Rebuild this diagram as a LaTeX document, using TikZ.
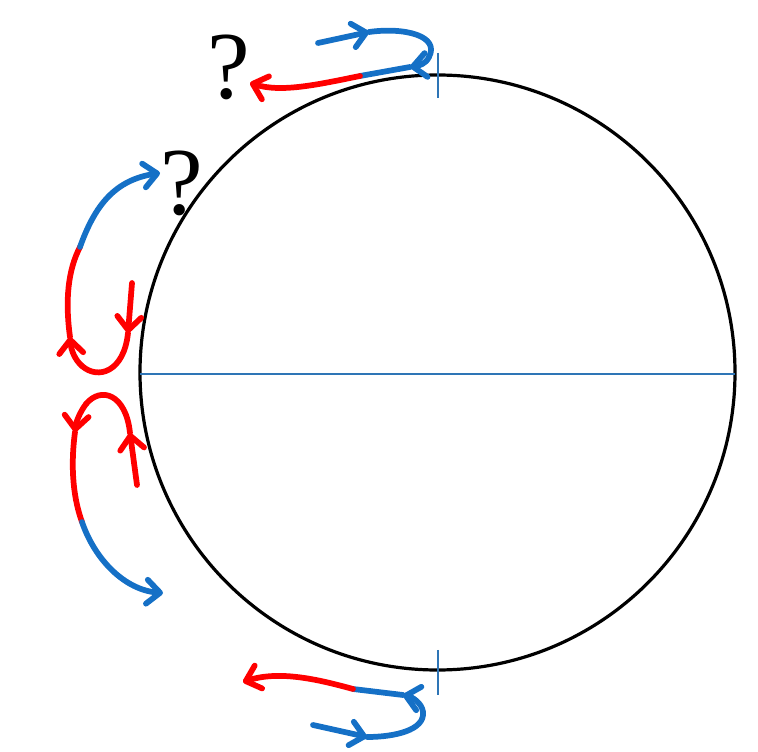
\documentclass[tikz,border=0pt]{standalone}
\usepackage{fontspec}
\setmainfont{Liberation Serif}
\usepackage{tikz}
\usetikzlibrary{arrows.meta}
\definecolor{spinblue}{RGB}{21,112,198}
\definecolor{spinred}{RGB}{255,0,0}
\definecolor{axisblue}{RGB}{46,117,182}
\begin{document}
\begin{tikzpicture}[x=0.75pt,y=-0.75pt,
        bl/.style={draw=spinblue,line width=4.3pt,line cap=round,line join=round},
        rd/.style={draw=spinred,line width=4.3pt,line cap=round,line join=round},
        hd/.style={-{Straight Barb[length=10pt,width=18pt,round]}},
        thin/.style={draw=axisblue,line width=1.5pt},
        qmark/.style={inner sep=0pt,font=\fontsize{72}{72}\selectfont}]
  \useasboundingbox (0,0) rectangle (758,752);
  % sphere and equator
  \coordinate (o) at (437.5,372.5);
  \coordinate (w) at (140,374);
  \coordinate (e) at (735,374);
  \draw[line width=2.4pt] (o) circle[radius=297.5];
  \draw[thin] (w) -- (e);
  % poles
  \coordinate (nt) at (438,53); \coordinate (nb) at (438,98);
  \coordinate (st) at (438,650); \coordinate (sb) at (438,695);
  \draw[thin] (nt) -- (nb);
  \draw[thin] (st) -- (sb);
  % question marks
  \node[qmark] (qtop) at (229,67) {?};
  \node[qmark] (qleft) at (182,183) {?};
  % top loop
  \coordinate (t1) at (318,43); \coordinate (t2) at (369,32);
  \coordinate (t3) at (429,57); \coordinate (t4) at (410,67);
  \coordinate (t5) at (360,76); \coordinate (t6) at (250,83);
  \draw[bl,hd] (t1) -- (t2);
  \draw[bl] (t2) .. controls (405,27) and (440,36) .. (t3);
  \draw[bl,hd] (t3) .. controls (426,64) and (418,66) .. (t4);
  \draw[bl] (t4) -- (t5);
  \draw[rd,hd] (t5) .. controls (320,84) and (282,93) .. (t6);
  % upper left loop
  \coordinate (a1) at (132,283); \coordinate (a2) at (128,333);
  \coordinate (a3) at (82,366); \coordinate (a4) at (70,337);
  \coordinate (a5) at (80,247); \coordinate (a6) at (160,173);
  \draw[rd,hd] (a1) -- (a2);
  \draw[rd] (a2) .. controls (124,372) and (98,380) .. (a3);
  \draw[rd,hd] (a3) .. controls (75,360) and (71,350) .. (a4);
  \draw[rd] (a4) .. controls (65,300) and (68,270) .. (a5);
  \draw[bl,hd] (a5) .. controls (95,205) and (115,180) .. (a6);
  % lower left loop
  \coordinate (b1) at (137,485); \coordinate (b2) at (130,433);
  \coordinate (b3) at (86,404); \coordinate (b4) at (75,432);
  \coordinate (b5) at (82,522); \coordinate (b6) at (163,593);
  \draw[rd,hd] (b1) -- (b2);
  \draw[rd] (b2) .. controls (126,394) and (101,386) .. (b3);
  \draw[rd,hd] (b3) .. controls (80,412) and (76,422) .. (b4);
  \draw[rd] (b4) .. controls (70,470) and (74,500) .. (b5);
  \draw[bl,hd] (b5) .. controls (95,560) and (125,590) .. (b6);
  % bottom loop
  \coordinate (c1) at (313,725); \coordinate (c2) at (367,737);
  \coordinate (c3) at (423,712); \coordinate (c4) at (403,695);
  \coordinate (c5) at (353,689); \coordinate (c6) at (243,682);
  \draw[bl,hd] (c1) -- (c2);
  \draw[bl] (c2) .. controls (395,737) and (425,730) .. (c3);
  \draw[bl,hd] (c3) .. controls (422,703) and (412,697) .. (c4);
  \draw[bl] (c4) -- (c5);
  \draw[rd,hd] (c5) .. controls (320,680) and (280,670) .. (c6);
\end{tikzpicture}
\end{document}
